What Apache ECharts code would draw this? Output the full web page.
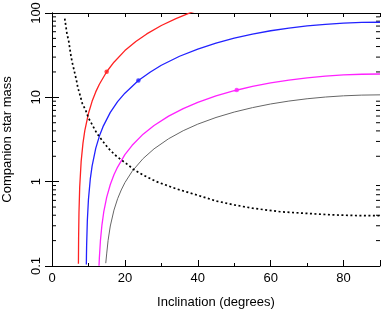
<!DOCTYPE html>
<html>
<head>
<meta charset="utf-8">
<script src="https://cdn.jsdelivr.net/npm/echarts@6/dist/echarts.min.js"></script>
<style>html,body{margin:0;padding:0;background:#fff}#c{width:382px;height:313px}</style>
</head>
<body>
<div id="c"></div>
<script>
// Companion star mass vs inclination (degrees)
const redCurve = [[7.25,0.106],[7.3,0.212],[7.4,0.426],[7.6,0.858],[8,1.74],[8.5,2.86],[9,4.02],[10,6.43],[11,8.96],[12,11.6],[13,14.3],[15,20.1],[17,26.1],[20,35.8],[23,46.0],[26,56.5],[30,71.1],[34,85.9],[38,100.9],[40,108.3]];
const blueCurve = [[9.42,0.104],[9.45,0.13],[9.5,0.174],[9.7,0.349],[10,0.615],[10.5,1.07],[11,1.53],[12,2.48],[13,3.47],[14,4.49],[16,6.63],[18,8.88],[20,11.2],[23.7,15.8],[27,20.0],[30,24.0],[35,30.7],[40,37.4],[45,44.0],[50,50.3],[55,56.2],[60,61.6],[65,66.3],[70,70.3],[75,73.5],[80,75.8],[85,77.3],[90,77.7]];
const magentaCurve = [[12.9,0.1005],[13,0.126],[13.3,0.203],[13.7,0.306],[14.2,0.437],[15,0.651],[16,0.925],[17,1.21],[18,1.49],[20,2.09],[22,2.70],[25,3.66],[28,4.64],[32,5.99],[36,7.35],[40,8.71],[45,10.38],[50,11.97],[55,13.46],[60,14.82],[65,16.01],[70,17.03],[75,17.83],[80,18.42],[85,18.78],[90,18.90]];
const grayCurve = [[14.75,0.108],[15,0.139],[15.4,0.202],[16,0.298],[17,0.460],[18,0.627],[19,0.797],[20,0.973],[22,1.33],[25,1.88],[28,2.45],[32,3.23],[36,4.02],[40,4.81],[45,5.77],[50,6.69],[55,7.55],[60,8.34],[65,9.03],[70,9.62],[75,10.08],[80,10.42],[85,10.63],[90,10.70]];
const dottedCurve = [[3.5,86],[4.1,57],[4.6,46],[5.1,33],[5.5,26.5],[6.0,21.5],[6.7,16],[7.1,13],[7.7,10.6],[8.3,8.5],[9.25,7.0],[10,5.7],[11.3,4.5],[12.3,3.75],[14.1,2.95],[15.5,2.48],[17.3,2.07],[19.1,1.80],[21,1.57],[22.3,1.40],[25,1.2],[28.7,1.0],[34.2,0.82],[40,0.69],[45,0.59],[50,0.53],[55,0.485],[62.6,0.44],[70,0.42],[76.3,0.405],[83,0.397],[90,0.394]];
const redMarker = [[15,20.1]];
const blueMarker = [[23.7,15.8]];
const magentaMarker = [[50.7,12.2]];
const xTicksMajor = [0,20,40,60,80];
const yTickLabels = {0.1:'0.1',1:'1',10:'10',100:'100'};
const yMinorTicks = [0.2,0.3,0.4,0.5,0.6,0.7,0.8,0.9,2,3,4,5,6,7,8,9,20,30,40,50,60,70,80,90];

const FONT = 'Liberation Sans';
const chart = echarts.init(document.getElementById('c'), null, {renderer:'canvas'});
const lineSeries = (data, color, width) => ({
  type:'line', data, showSymbol:false, symbol:'none', smooth:false, clip:true,
  lineStyle:{color, width}, xAxisIndex:0, yAxisIndex:0, silent:true, animation:false
});
const markSeries = (data, color) => ({
  type:'scatter', data, symbol:'circle', symbolSize:4.5, itemStyle:{color}, silent:true, animation:false
});
chart.setOption({
  animation:false,
  grid:{left:52, right:2, top:13, bottom:47, containLabel:false, outerBoundsMode:'none'},
  xAxis:[
    {type:'value', min:0, max:90, interval:20, position:'bottom',
     axisLine:{lineStyle:{color:'#000', width:1}},
     axisTick:{inside:true, length:6, lineStyle:{color:'#000'}},
     minorTick:{show:true, splitNumber:2, length:3, lineStyle:{color:'#000'}},
     splitLine:{show:false},
     axisLabel:{color:'#000', fontFamily:FONT, fontSize:13, margin:6,
       formatter:v => xTicksMajor.includes(v) ? String(v) : ''},
     name:'Inclination (degrees)', nameLocation:'middle', nameGap:30,
     nameTextStyle:{color:'#000', fontFamily:FONT, fontSize:13}},
    {type:'value', min:0, max:90, interval:10, position:'top',
     axisLine:{lineStyle:{color:'#000', width:1}},
     axisTick:{inside:true, length:4, lineStyle:{color:'#000'}},
     splitLine:{show:false}, axisLabel:{show:false}}
  ],
  yAxis:[
    {type:'log', logBase:10, min:0.1, max:100, position:'left',
     axisLine:{show:true, lineStyle:{color:'#000', width:1}},
     axisTick:{show:true, inside:true, length:7, lineStyle:{color:'#000'}},
     splitLine:{show:false},
     axisLabel:{color:'#000', fontFamily:FONT, fontSize:13, rotate:90, margin:9,
       formatter:v => yTickLabels[+(+v).toPrecision(3)] || ''},
     name:'Companion star mass', nameLocation:'middle', nameGap:38,
     nameTextStyle:{color:'#000', fontFamily:FONT, fontSize:13}},
    {type:'log', logBase:10, min:0.1, max:100, position:'right',
     axisLine:{show:true, lineStyle:{color:'#000', width:1}},
     axisTick:{show:true, inside:true, length:7, lineStyle:{color:'#000'}},
     splitLine:{show:false}, axisLabel:{show:false}}
  ],
  series:[
    {type:'custom', coordinateSystem:'cartesian2d', xAxisIndex:0, yAxisIndex:0,
     data:yMinorTicks.map(v => [0, v]), silent:true, animation:false, clip:false,
     renderItem:(params, api) => {
       const v = api.value(1);
       const pl = api.coord([0, v]);
       const pr = api.coord([90, v]);
       return {type:'group', children:[
         {type:'line', shape:{x1:pl[0], y1:pl[1], x2:pl[0]+4, y2:pl[1]}, style:{stroke:'#000', lineWidth:1}},
         {type:'line', shape:{x1:pr[0]-4, y1:pr[1], x2:pr[0], y2:pr[1]}, style:{stroke:'#000', lineWidth:1}}
       ]};
     }},
    lineSeries(grayCurve, '#666666', 1),
    lineSeries(magentaCurve, '#ff22ff', 1.3),
    lineSeries(blueCurve, '#2222ff', 1.3),
    lineSeries(redCurve, '#ff2222', 1.3),
    Object.assign(lineSeries(dottedCurve, '#000000', 1.7), {lineStyle:{color:'#000', width:1.7, type:[2,2.5]}}),
    markSeries(redMarker, '#ff2222'),
    markSeries(blueMarker, '#2222ff'),
    markSeries(magentaMarker, '#ff22ff')
  ]
});
</script>
</body>
</html>
